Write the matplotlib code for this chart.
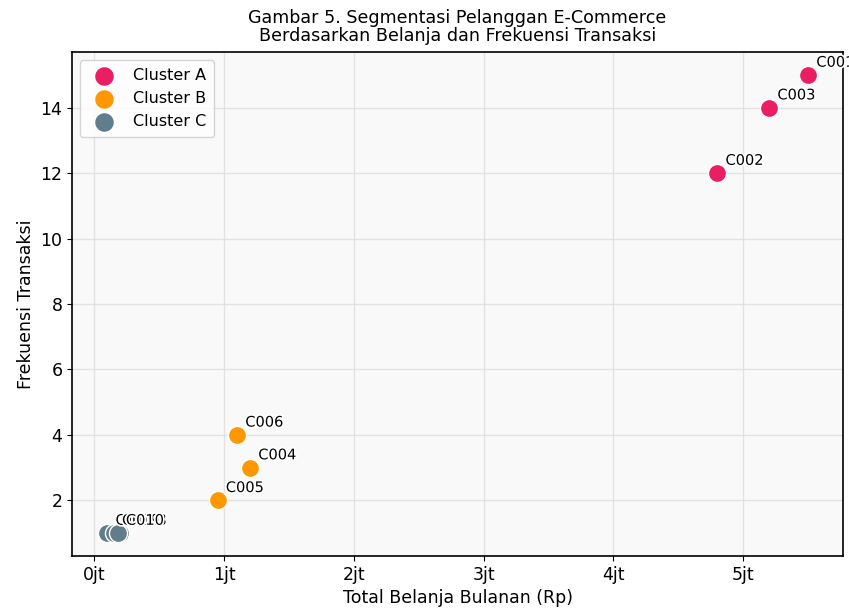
import matplotlib
matplotlib.use('Agg')
import matplotlib.pyplot as plt
import matplotlib.patheffects as pe
from matplotlib.ticker import FuncFormatter

# data pelanggan
cluster_names = ['Cluster A', 'Cluster B', 'Cluster C']
cluster_colors = ['#E91E63', '#FF9800', '#607D8B']

ids = [['C001', 'C002', 'C003'],
       ['C004', 'C005', 'C006'],
       ['C007', 'C008', 'C009', 'C010']]
belanja = [[5500000, 4800000, 5200000],
           [1200000, 950000, 1100000],
           [100000, 200000, 150000, 180000]]
frekuensi = [[15, 12, 14],
             [3, 2, 4],
             [1, 1, 1, 1]]


def main():
    fig = plt.figure(figsize=(8.49, 6.13), dpi=100)
    ax = fig.add_axes([0.085, 0.093, 0.908, 0.822])
    ax.set_facecolor('#f9f9f9')

    for name, color, cid, xs, ys in zip(cluster_names, cluster_colors, ids, belanja, frekuensi):
        ax.scatter(xs, ys, s=170, color=color, edgecolor='white', linewidth=1,
                   label=name, zorder=3)
        for label, x, y in zip(cid, xs, ys):
            ax.annotate(label, (x, y), xytext=(6, 6), textcoords='offset points',
                        fontsize=10.5, zorder=4,
                        path_effects=[pe.withStroke(linewidth=2.5, foreground='white')])

    ax.xaxis.set_major_formatter(FuncFormatter(lambda v, p: f'{v / 1e6:.0f}jt'))
    ax.tick_params(labelsize=12.5)
    ax.grid(True, color='#dddddd', linewidth=1, alpha=0.8)
    ax.set_axisbelow(True)
    for sp in ax.spines.values():
        sp.set_linewidth(1.2)

    ax.set_xlabel('Total Belanja Bulanan (Rp)', fontsize=12.5)
    ax.set_ylabel('Frekuensi Transaksi', fontsize=12.5)
    ax.set_title('Gambar 5. Segmentasi Pelanggan E-Commerce\nBerdasarkan Belanja dan Frekuensi Transaksi',
                 fontsize=12.6, linespacing=1.0, pad=8)
    ax.legend(loc='upper left', fontsize=11.5, markerscale=1.1, borderpad=0.5)

    plt.savefig('out.png', dpi=100)
    plt.close()


if __name__ == '__main__':
    main()
